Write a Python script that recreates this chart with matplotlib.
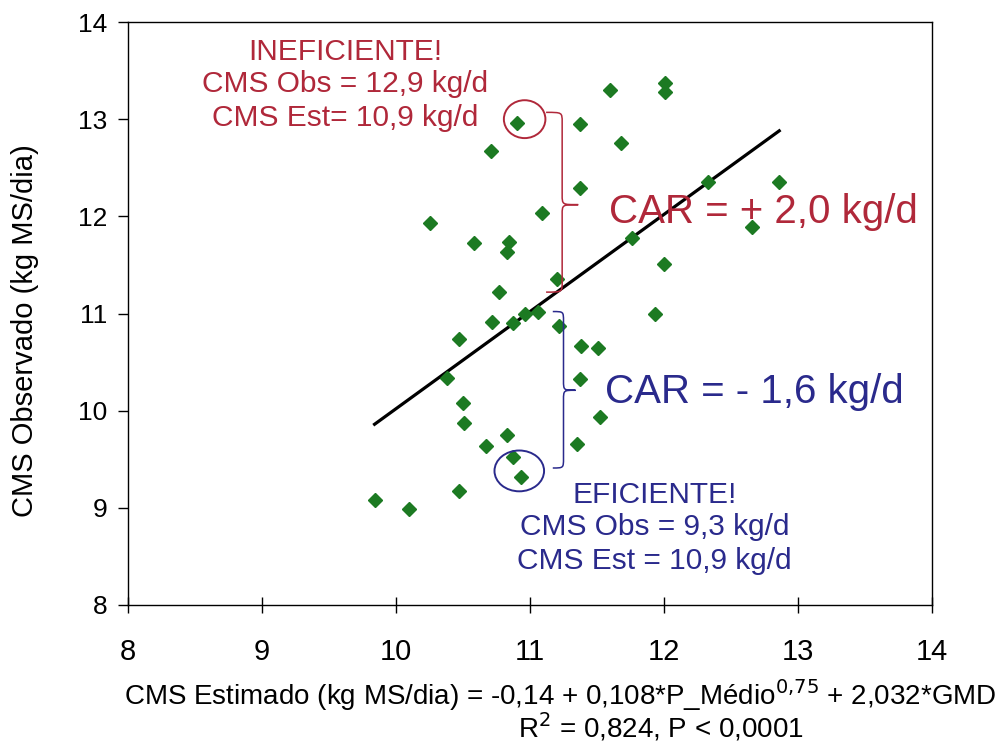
import numpy as np
import matplotlib
matplotlib.use("Agg")
import matplotlib.pyplot as plt
from matplotlib.patches import Ellipse, PathPatch
from matplotlib.path import Path

# ---- data ----
cms_est = [9.84, 10.10, 10.25, 10.38, 10.47, 10.47, 10.50, 10.51, 10.58, 10.67,
           10.71, 10.72, 10.77, 10.83, 10.84, 10.83, 10.87, 10.87, 10.90, 10.93,
           10.96, 11.06, 11.09, 11.20, 11.22, 11.37, 11.37, 11.38, 11.51, 11.37,
           11.52, 11.35, 11.60, 11.68, 11.76, 11.93, 12.01, 12.01, 12.00, 12.33,
           12.86, 12.66]
cms_obs = [9.08, 8.99, 11.93, 10.34, 10.74, 9.17, 10.08, 9.87, 11.73, 9.64,
           12.67, 10.91, 11.22, 9.75, 11.74, 11.63, 10.90, 9.52, 12.96, 9.32,
           11.00, 11.02, 12.03, 11.35, 10.87, 12.95, 12.29, 10.67, 10.65, 10.33,
           9.93, 9.66, 13.30, 12.75, 11.78, 11.00, 13.37, 13.28, 11.51, 12.35,
           12.35, 11.89]
fit_x = [9.84, 12.86]
fit_y = [9.86, 12.88]
x_ticks = [8, 9, 10, 11, 12, 13, 14]
y_ticks = [8, 9, 10, 11, 12, 13, 14]

RED = "#b0283a"
BLUE = "#2a2a8c"
GREEN = "#1c7a22"
FONT = ["Liberation Sans", "DejaVu Sans"]

fig = plt.figure(figsize=(10.06, 7.44), dpi=100)
ax = fig.add_axes([128/1006, 1-605/744, (932-128)/1006, (605-22)/744])

ax.plot(fit_x, fit_y, color="black", lw=2.3, zorder=2)
ax.plot(cms_est, cms_obs, linestyle="none", marker="D", markersize=7.3,
        color=GREEN, zorder=3)

ax.set_xlim(8, 14)
ax.set_ylim(8, 14)
ax.set_xticks(x_ticks)
ax.set_yticks(y_ticks)
ax.set_xticklabels([str(v) for v in x_ticks], family=FONT, fontsize=21)
ax.set_yticklabels([str(v) for v in y_ticks], family=FONT, fontsize=19)
ax.tick_params(axis="x", direction="inout", length=12, pad=18, width=1)
ax.tick_params(axis="y", direction="out", length=7, pad=8, width=1)
for s in ax.spines.values():
    s.set_linewidth(1.0)

fig.text(25/1006, 1-331/744, "CMS Observado (kg MS/dia)", rotation=90,
         ha="center", va="center", family=FONT, fontsize=21)

fig.text(560/1006, 1-695/744,
         "CMS Estimado (kg MS/dia) = -0,14 + 0,108*P_Médio$^{0{,}75}$ + 2,032*GMD",
         ha="center", va="center", family=FONT, fontsize=20)
fig.text(661/1006, 1-727/744, "R$^{2}$ = 0,824, P < 0,0001",
         ha="center", va="center", family=FONT, fontsize=20)

# annotations
ax.text(9.62, 13.69, "INEFICIENTE!", color=RED, ha="center", va="center",
        family=FONT, fontsize=21.5)
ax.text(9.62, 13.36, "CMS Obs = 12,9 kg/d", color=RED, ha="center", va="center",
        family=FONT, fontsize=21.5)
ax.text(9.62, 13.01, "CMS Est= 10,9 kg/d", color=RED, ha="center", va="center",
        family=FONT, fontsize=21.5)
ax.text(11.59, 12.04, "CAR = + 2,0 kg/d", color=RED, ha="left", va="center",
        family=FONT, fontsize=29)
ax.text(11.56, 10.19, "CAR = - 1,6 kg/d", color=BLUE, ha="left", va="center",
        family=FONT, fontsize=29)
ax.text(11.93, 9.13, "EFICIENTE!", color=BLUE, ha="center", va="center",
        family=FONT, fontsize=21.5)
ax.text(11.93, 8.80, "CMS Obs = 9,3 kg/d", color=BLUE, ha="center", va="center",
        family=FONT, fontsize=21.5)
ax.text(11.93, 8.45, "CMS Est = 10,9 kg/d", color=BLUE, ha="center", va="center",
        family=FONT, fontsize=21.5)

ax.add_patch(Ellipse((10.96, 13.0), 0.31, 0.39, fill=False, ec=RED, lw=1.4, zorder=4))
ax.add_patch(Ellipse((10.92, 9.38), 0.37, 0.42, fill=False, ec=BLUE, lw=1.4, zorder=4))


def brace(xt, xl, xc, yt, ym, yb, color, ry=0.1):
    verts = [(xt, yt), (xl, yt), (xl, yt), (xl, yt - ry),
             (xl, ym + ry),
             (xl, ym), (xl, ym), (xc, ym),
             (xl, ym), (xl, ym), (xl, ym - ry),
             (xl, yb + ry),
             (xl, yb), (xl, yb), (xt, yb)]
    codes = [Path.MOVETO, Path.CURVE4, Path.CURVE4, Path.CURVE4,
             Path.LINETO,
             Path.CURVE4, Path.CURVE4, Path.CURVE4,
             Path.CURVE4, Path.CURVE4, Path.CURVE4,
             Path.LINETO,
             Path.CURVE4, Path.CURVE4, Path.CURVE4]
    ax.add_patch(PathPatch(Path(verts, codes), fill=False, ec=color, lw=1.1, zorder=4))


brace(11.12, 11.24, 11.36, 13.07, 12.12, 11.22, RED)
brace(11.17, 11.25, 11.34, 11.02, 10.21, 9.41, BLUE)

fig.savefig("out.png", dpi=100, facecolor="white")
